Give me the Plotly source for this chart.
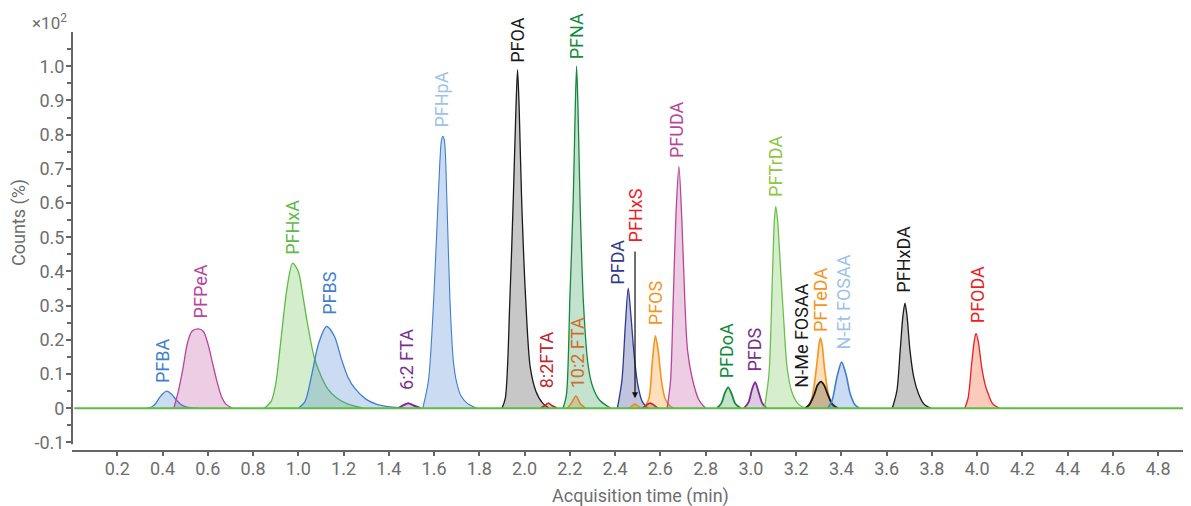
import plotly.graph_objects as go

# ---------------- data ----------------
PFBA_t = [0.33, 0.35, 0.37, 0.39, 0.418, 0.44, 0.46, 0.48, 0.50, 0.53, 0.56]
PFBA_y = [0, 0.003, 0.014, 0.034, 0.050, 0.041, 0.025, 0.012, 0.005, 0.001, 0]

PFPeA_t = [0.45, 0.47, 0.49, 0.51, 0.53, 0.558, 0.58, 0.60, 0.62, 0.64, 0.66, 0.68, 0.71]
PFPeA_y = [0, 0.05, 0.115, 0.19, 0.225, 0.232, 0.225, 0.19, 0.135, 0.08, 0.035, 0.012, 0]

PFHxA_t = [0.85, 0.88, 0.90, 0.92, 0.95, 0.975, 1.00, 1.02, 1.04, 1.07, 1.10, 1.13, 1.17, 1.22, 1.29]
PFHxA_y = [0, 0.02, 0.07, 0.18, 0.35, 0.424, 0.40, 0.33, 0.25, 0.15, 0.095, 0.057, 0.03, 0.012, 0]

PFBS_t = [1.00, 1.03, 1.06, 1.09, 1.125, 1.16, 1.19, 1.22, 1.25, 1.30, 1.35, 1.42, 1.47]
PFBS_y = [0, 0.02, 0.10, 0.19, 0.239, 0.21, 0.145, 0.09, 0.058, 0.026, 0.011, 0.003, 0]

FTA62_t = [1.44, 1.465, 1.486, 1.51, 1.54]
FTA62_y = [0, 0.009, 0.015, 0.008, 0]

PFHpA_t = [1.55, 1.575, 1.60, 1.62, 1.632, 1.638, 1.645, 1.657, 1.67, 1.685, 1.70, 1.72, 1.75, 1.79]
PFHpA_y = [0, 0.08, 0.34, 0.64, 0.78, 0.795, 0.785, 0.60, 0.32, 0.14, 0.075, 0.035, 0.013, 0]

PFOA_t = [1.90, 1.915, 1.935, 1.95, 1.962, 1.969, 1.976, 1.987, 2.005, 2.025, 2.05, 2.08, 2.11]
PFOA_y = [0, 0.03, 0.317, 0.61, 0.88, 0.99, 0.88, 0.61, 0.317, 0.12, 0.05, 0.015, 0]

FTA82_t = [2.07, 2.09, 2.105, 2.12, 2.145]
FTA82_y = [0, 0.008, 0.015, 0.008, 0]

FTA82b_t = [2.52, 2.54, 2.555, 2.57, 2.59]
FTA82b_y = [0, 0.01, 0.015, 0.01, 0]

PFNA_t = [2.17, 2.185, 2.20, 2.215, 2.224, 2.230, 2.236, 2.245, 2.26, 2.28, 2.30, 2.33, 2.38]
PFNA_y = [0, 0.04, 0.317, 0.61, 0.88, 1.0, 0.88, 0.61, 0.31, 0.13, 0.065, 0.025, 0]

FTA102_t = [2.19, 2.21, 2.227, 2.245, 2.27]
FTA102_y = [0, 0.018, 0.036, 0.015, 0]

PFDA_t = [2.41, 2.43, 2.445, 2.458, 2.47, 2.485, 2.50, 2.52, 2.545]
PFDA_y = [0, 0.08, 0.24, 0.351, 0.27, 0.15, 0.07, 0.02, 0]

PFHxS_t = [2.46, 2.475, 2.488, 2.50, 2.52]
PFHxS_y = [0, 0.007, 0.012, 0.007, 0]

PFOS_t = [2.53, 2.55, 2.565, 2.578, 2.59, 2.605, 2.62, 2.64, 2.66]
PFOS_y = [0, 0.03, 0.14, 0.212, 0.17, 0.08, 0.03, 0.008, 0]

PFUDA_t = [2.63, 2.645, 2.657, 2.67, 2.682, 2.695, 2.708, 2.72, 2.74, 2.77, 2.80]
PFUDA_y = [0, 0.08, 0.317, 0.58, 0.707, 0.55, 0.317, 0.17, 0.09, 0.025, 0]

PFDoA_t = [2.85, 2.87, 2.885, 2.900, 2.915, 2.93, 2.955]
PFDoA_y = [0, 0.015, 0.045, 0.061, 0.042, 0.015, 0]

PFDS_t = [2.97, 2.99, 3.005, 3.019, 3.033, 3.05, 3.07]
PFDS_y = [0, 0.018, 0.055, 0.076, 0.05, 0.015, 0]

PFTrDA_t = [3.06, 3.08, 3.095, 3.104, 3.110, 3.118, 3.13, 3.145, 3.16, 3.18, 3.21, 3.24]
PFTrDA_y = [0, 0.1, 0.38, 0.55, 0.59, 0.55, 0.42, 0.26, 0.12, 0.05, 0.012, 0]

PFTeDA_t = [3.25, 3.27, 3.29, 3.302, 3.308, 3.315, 3.325, 3.34, 3.355, 3.375]
PFTeDA_y = [0, 0.03, 0.12, 0.19, 0.205, 0.185, 0.12, 0.05, 0.015, 0]

NMeFOSAA_t = [3.24, 3.26, 3.28, 3.295, 3.310, 3.325, 3.34, 3.36, 3.385]
NMeFOSAA_y = [0, 0.012, 0.04, 0.068, 0.078, 0.066, 0.04, 0.012, 0]

NEtFOSAA_t = [3.34, 3.36, 3.38, 3.401, 3.42, 3.44, 3.46, 3.48]
NEtFOSAA_y = [0, 0.025, 0.09, 0.135, 0.10, 0.04, 0.01, 0]

PFHxDA_t = [3.625, 3.645, 3.66, 3.672, 3.681, 3.69, 3.703, 3.72, 3.74, 3.765, 3.795]
PFHxDA_y = [0, 0.05, 0.17, 0.27, 0.307, 0.27, 0.17, 0.09, 0.044, 0.012, 0]

PFODA_t = [3.945, 3.96, 3.976, 3.988, 3.995, 4.005, 4.02, 4.035, 4.05, 4.07, 4.10]
PFODA_y = [0, 0.03, 0.132, 0.20, 0.219, 0.195, 0.12, 0.07, 0.04, 0.012, 0]

baseline_t = [0.01, 4.95]
baseline_y = [0, 0]

x_ticks = [0.2, 0.4, 0.6, 0.8, 1.0, 1.2, 1.4, 1.6, 1.8, 2.0, 2.2, 2.4, 2.6, 2.8,
           3.0, 3.2, 3.4, 3.6, 3.8, 4.0, 4.2, 4.4, 4.6, 4.8]
y_ticks = [-0.1, 0, 0.1, 0.2, 0.3, 0.4, 0.5, 0.6, 0.7, 0.8, 0.9, 1.0]
y_ticktext = ["-0.1", "0", "0.1", "0.2", "0.3", "0.4", "0.5", "0.6", "0.7", "0.8", "0.9", "1.0"]

# ---------------- styles ----------------
BLUE = "#3f7fcf"
MAG = "#b8469b"
GRN = "#5dbb46"
PUR = "#7a2d8f"
BLK = "#1a1a1a"
DGRN = "#148a3c"
DRED = "#c1272d"
NAVY = "#2e3a94"
ORG = "#f7941d"
LGRN = "#6cc04a"
RED = "#ee1c25"
LBLUE = "#9dc3ea"

def rgba(h, a):
    h = h.lstrip("#")
    return "rgba(%d,%d,%d,%s)" % (int(h[0:2], 16), int(h[2:4], 16), int(h[4:6], 16), a)

series = [
    (PFBA_t, PFBA_y, BLUE, rgba(BLUE, 0.27), 1.3),
    (PFPeA_t, PFPeA_y, MAG, rgba(MAG, 0.27), 1.3),
    (PFHxA_t, PFHxA_y, GRN, rgba(GRN, 0.27), 1.3),
    (PFBS_t, PFBS_y, BLUE, rgba(BLUE, 0.27), 1.3),
    (FTA62_t, FTA62_y, PUR, rgba(PUR, 0.25), 2.0),
    (PFHpA_t, PFHpA_y, BLUE, rgba(BLUE, 0.27), 1.1),
    (PFOA_t, PFOA_y, BLK, rgba("#000000", 0.22), 1.3),
    (FTA82_t, FTA82_y, DRED, rgba(DRED, 0.25), 1.6),
    (PFNA_t, PFNA_y, DGRN, rgba(DGRN, 0.25), 1.3),
    (FTA102_t, FTA102_y, "#d9882a", rgba("#d9882a", 0.3), 1.6),
    (PFDA_t, PFDA_y, NAVY, rgba(NAVY, 0.3), 1.3),
    (PFHxS_t, PFHxS_y, "#f08a24", rgba("#f08a24", 0.3), 1.6),
    (PFOS_t, PFOS_y, ORG, rgba(ORG, 0.3), 1.6),
    (FTA82b_t, FTA82b_y, DRED, rgba(DRED, 0.25), 1.6),
    (PFUDA_t, PFUDA_y, MAG, rgba(MAG, 0.27), 1.3),
    (PFDoA_t, PFDoA_y, DGRN, rgba(DGRN, 0.25), 1.8),
    (PFDS_t, PFDS_y, PUR, rgba(PUR, 0.25), 1.8),
    (PFTrDA_t, PFTrDA_y, LGRN, rgba(LGRN, 0.27), 1.3),
    (PFTeDA_t, PFTeDA_y, ORG, rgba(ORG, 0.3), 1.6),
    (NMeFOSAA_t, NMeFOSAA_y, BLK, rgba("#000000", 0.2), 1.8),
    (NEtFOSAA_t, NEtFOSAA_y, BLUE, rgba(BLUE, 0.27), 1.6),
    (PFHxDA_t, PFHxDA_y, BLK, rgba("#000000", 0.22), 1.3),
    (PFODA_t, PFODA_y, RED, "rgba(241,90,41,0.32)", 1.3),
]

# peak labels: text, x position (min), bottom of label (y units), colour
labels = [
    ("PFBA", 0.403, 0.073, BLUE),
    ("PFPeA", 0.566, 0.263, MAG),
    ("PFHxA", 0.975, 0.449, GRN),
    ("PFBS", 1.140, 0.273, BLUE),
    ("6:2 FTA", 1.479, 0.054, PUR),
    ("PFHpA", 1.634, 0.820, LBLUE),
    ("PFOA", 1.971, 1.010, BLK),
    ("PFNA", 2.230, 1.019, DGRN),
    ("8:2FTA", 2.098, 0.059, DRED),
    ("10:2 FTA", 2.235, 0.059, "#cf6f28"),
    ("PFDA", 2.410, 0.361, NAVY),
    ("PFHxS", 2.488, 0.485, RED),
    ("PFOS", 2.576, 0.244, ORG),
    ("PFUDA", 2.672, 0.732, MAG),
    ("PFDoA", 2.893, 0.088, DGRN),
    ("PFDS", 3.018, 0.107, PUR),
    ("PFTrDA", 3.106, 0.619, "#8dc63f"),
    ("N-Me FOSAA", 3.224, 0.059, BLK),
    ("PFTeDA", 3.305, 0.224, ORG),
    ("N-Et FOSAA", 3.408, 0.171, LBLUE),
    ("PFHxDA", 3.673, 0.337, BLK),
    ("PFODA", 4.002, 0.249, RED),
]

FONT = "Roboto, sans-serif"
GRAY = "#6e6e6e"
AXC = "#666666"

# the page body has an 8px margin, so the figure is placed 8px in from the corner
OFF = 8
W, H = 1191 - OFF, 506 - OFF
L, T, B = 72 - OFF, 32 - OFF, 506 - 450
PW, PH = W - L, H - T - B

def px(x):
    return (x - OFF - L) / PW

def py(y):
    return (H - B - (y - OFF)) / PH

fig = go.Figure()
for t, y, lc, fc, w in series:
    fig.add_trace(go.Scatter(
        x=t, y=y, mode="lines",
        line=dict(color=lc, width=w, shape="spline", smoothing=0.8),
        fill="tozeroy", fillcolor=fc, hoverinfo="skip", showlegend=False))

fig.add_trace(go.Scatter(x=baseline_t, y=baseline_y, mode="lines",
                         line=dict(color=GRN, width=2.2), hoverinfo="skip",
                         showlegend=False))

for text, x, y, c in labels:
    fig.add_annotation(x=x, y=y, text=text, textangle=-90, showarrow=False,
                       xanchor="center", yanchor="bottom", yshift=-2,
                       font=dict(family=FONT, size=18, color=c))

# arrow from PFHxS label down to its small peak
fig.add_annotation(x=2.488, y=0.029, ax=2.488, ay=0.463, xref="x", yref="y",
                   axref="x", ayref="y", text="", showarrow=True,
                   arrowhead=2, arrowsize=1, arrowwidth=1.2, arrowcolor="#111111")

# axis titles and multiplier
fig.add_annotation(xref="paper", yref="paper", x=px(49), y=py(22),
                   text="×10<sup>2</sup>", showarrow=False, xanchor="center",
                   yanchor="middle", font=dict(family=FONT, size=17, color=GRAY))
fig.add_annotation(xref="paper", yref="paper", x=px(19), y=py(223),
                   text="Counts (%)", textangle=-90, showarrow=False,
                   xanchor="center", yanchor="middle",
                   font=dict(family=FONT, size=18, color=GRAY))
fig.add_annotation(xref="paper", yref="paper", x=px(640), y=py(496),
                   text="Acquisition time (min)", showarrow=False,
                   xanchor="center", yanchor="middle",
                   font=dict(family=FONT, size=18, color=GRAY))

# detached y-axis line
fig.add_shape(type="line", xref="paper", yref="y", x0=0, x1=0, y0=-0.105, y1=1.10,
              line=dict(color=AXC, width=2))

fig.update_layout(
    width=W, height=H,
    margin=dict(l=L, r=0, t=T, b=B, pad=0),
    paper_bgcolor="white", plot_bgcolor="white",
    showlegend=False, hovermode=False,
    font=dict(family=FONT, size=18, color=GRAY),
    xaxis=dict(range=[0, 4.945], showgrid=False, zeroline=False,
               showline=True, linecolor=AXC, linewidth=2,
               tickmode="array", tickvals=x_ticks,
               ticktext=["%.1f" % v for v in x_ticks],
               ticks="outside", ticklen=4, tickwidth=2, tickcolor=AXC,
               ticklabelstandoff=-3,
               tickfont=dict(family=FONT, size=18, color=GRAY)),
    yaxis=dict(range=[-0.122, 1.10], showgrid=False, zeroline=False,
               showline=False,
               tickmode="array", tickvals=y_ticks, ticktext=y_ticktext,
               ticks="outside", ticklen=5, tickwidth=2, tickcolor=AXC,
               ticklabelstandoff=-2,
               tickfont=dict(family=FONT, size=18, color=GRAY),
               minor=dict(tickmode="array",
                          tickvals=[-0.05, 0.05, 0.15, 0.25, 0.35, 0.45, 0.55,
                                    0.65, 0.75, 0.85, 0.95, 1.05],
                          ticks="outside", ticklen=4, tickwidth=2, tickcolor=AXC)),
)

fig.write_html("out.html")
